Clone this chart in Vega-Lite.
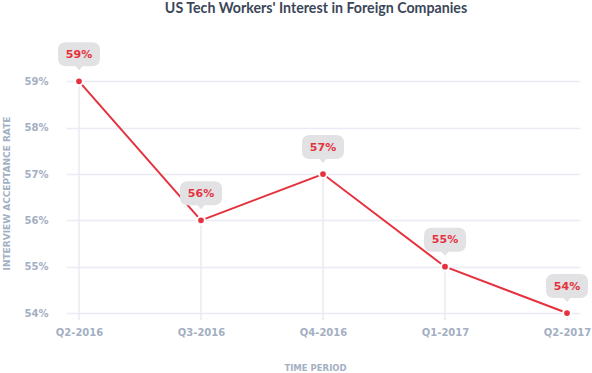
{
  "$schema": "https://vega.github.io/schema/vega-lite/v6.json",
  "autosize": "none",
  "width": 514,
  "height": 285,
  "padding": {"left": 66, "top": 35, "right": 12, "bottom": 53},
  "background": "white",
  "config": {
    "view": {"stroke": null},
    "font": "Lato"
  },
  "title": {
    "text": "US Tech Workers' Interest in Foreign Companies",
    "fontSize": 14.2,
    "fontWeight": "bold",
    "color": "#3b4759",
    "font": "Lato",
    "anchor": "middle",
    "dx": -7,
    "offset": 19
  },
  "data": {
    "values": [
      {"period": "Q2-2016", "rate": 0.59},
      {"period": "Q3-2016", "rate": 0.56},
      {"period": "Q4-2016", "rate": 0.57},
      {"period": "Q1-2017", "rate": 0.55},
      {"period": "Q2-2017", "rate": 0.54}
    ]
  },
  "encoding": {
    "x": {
      "field": "period",
      "type": "ordinal",
      "sort": null,
      "scale": {"type": "point", "padding": 0.1066},
      "axis": {
        "title": "TIME PERIOD",
        "titleFont": "DejaVu Sans",
        "titleFontSize": 8.5,
        "titleFontWeight": "bold",
        "titleColor": "#a3afc2",
        "titleX": 249,
        "titleY": 47,
        "titleBaseline": "middle",
        "titleAnchor": "start",
        "titleAlign": "center",
        "labelAngle": 0,
        "labelFont": "DejaVu Sans",
        "labelFontSize": 10,
        "labelFontWeight": "bold",
        "labelColor": "#a3afc2",
        "labelPadding": 7,
        "ticks": false,
        "domain": false,
        "grid": false
      }
    },
    "y": {
      "field": "rate",
      "type": "quantitative",
      "scale": {"domain": [0.5385, 0.60], "nice": false, "zero": false},
      "axis": {
        "values": [0.54, 0.55, 0.56, 0.57, 0.58, 0.59],
        "format": ".0%",
        "title": "INTERVIEW ACCEPTANCE RATE",
        "titleFont": "DejaVu Sans",
        "titleFontSize": 9,
        "titleFontWeight": "bold",
        "titleColor": "#a3afc2",
        "titleAngle": -90,
        "titleX": -60,
        "titleY": 158,
        "titleAlign": "center",
        "titleBaseline": "middle",
        "labelFont": "DejaVu Sans",
        "labelFontSize": 10,
        "labelFontWeight": "bold",
        "labelColor": "#a3afc2",
        "labelPadding": 18,
        "ticks": false,
        "domain": false,
        "grid": true,
        "gridColor": "#eaecf4",
        "gridWidth": 1.5
      }
    }
  },
  "layer": [
    {
      "mark": {"type": "rule", "color": "#e9ebf3", "strokeWidth": 1.5},
      "encoding": {"y2": {"datum": 0.5385}}
    },
    {
      "mark": {"type": "line", "color": "#e5323e", "strokeWidth": 2}
    },
    {
      "mark": {"type": "point", "filled": true, "fill": "#e5323e", "stroke": "white", "strokeWidth": 2, "opacity": 1, "size": 60, "shape": "circle"}
    },
    {
      "mark": {
        "type": "point",
        "filled": true,
        "fill": "#e2e2e5",
        "opacity": 1,
        "size": 400,
        "yOffset": -27,
        "shape": "M -1.3 -1.2 L 1.3 -1.2 Q 2.1 -1.2 2.1 -0.4 L 2.1 0.4 Q 2.1 1.2 1.3 1.2 L 0.35 1.2 L 0 1.6 L -0.35 1.2 L -1.3 1.2 Q -2.1 1.2 -2.1 0.4 L -2.1 -0.4 Q -2.1 -1.2 -1.3 -1.2 Z"
      }
    },
    {
      "mark": {"type": "text", "color": "#e5323e", "font": "DejaVu Sans", "fontSize": 11, "fontWeight": "bold", "baseline": "middle", "align": "center", "yOffset": -26.5},
      "encoding": {"text": {"field": "rate", "type": "quantitative", "format": ".0%"}}
    }
  ]
}
